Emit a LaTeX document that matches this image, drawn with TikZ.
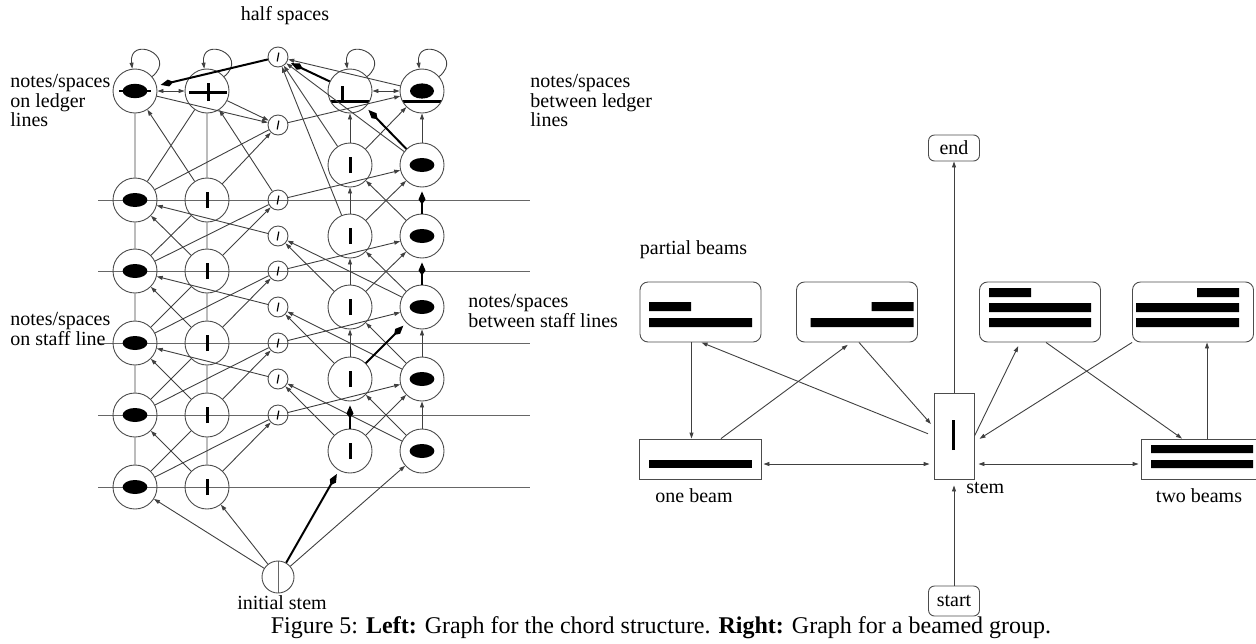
\documentclass[tikz,border=0pt]{standalone}
\usepackage{fontspec}
\setmainfont{Liberation Serif}
\usetikzlibrary
  {
    arrows.meta,              % arrow heads
    positioning,              % place nodes relative to other nodes
  }

\begin{document}
\begin{tikzpicture}
    [
      x=0.5pt,
      y=0.5pt,
      font=\fontsize{10}{9.75}\selectfont,
      >={Triangle[length=3pt,width=2pt]},
      link/.style=
        {
          ->,
          draw=black!75,
          line width=0.45pt,
        },
      mainlink/.style=
        {
          -{Kite[length=6.5pt,width=3.5pt,inset=2.5pt]},
          draw=black,
          line width=1pt,
          shorten >=2pt,
        },
      staff/.style={draw=black!60, line width=0.5pt},
      chordnode/.style=
        {
          circle,
          minimum size=22pt,
          inner sep=0pt,
          draw=black!70,
          line width=0.45pt,
        },
      halfnode/.style=
        {
          circle,
          minimum size=10pt,
          inner sep=0pt,
          draw=black!70,
          line width=0.45pt,
          path picture={\draw [black, line width=0.6pt, shift={(path picture bounding box.center)}]
                          (-0.4pt,-2.2pt) -- (0.4pt,2.2pt);},
        },
      headmark/.style=
        {path picture={\fill [black, shift={(path picture bounding box.center)}]
                         (0,0) ellipse [x radius=6.2pt, y radius=3.5pt];}},
      stemmark/.style=
        {path picture={\draw [black, line width=1.5pt, shift={(path picture bounding box.center)}]
                         (0,-4pt) -- (0,4pt);}},
      ledgermark/.style=
        {path picture={\fill [black, shift={(path picture bounding box.center)}]
                         (0,0) ellipse [x radius=6.2pt, y radius=3.6pt];
                       \draw [black, line width=1.2pt, shift={(path picture bounding box.center)}]
                         (-8pt,0) -- (8pt,0);}},
      plusmark/.style=
        {path picture={\draw [black, line width=1.5pt, shift={(path picture bounding box.center)}]
                         (-9pt,-0.5pt) -- (10pt,-0.5pt) (0.5pt,-5pt) -- (0.5pt,4pt);}},
      floormark/.style=
        {path picture={\draw [black, line width=1.5pt, shift={(path picture bounding box.center)}]
                         (-11pt,-5pt) -- (11pt,-5pt) (-4pt,-5pt) -- (-4pt,2.5pt);}},
      domemark/.style=
        {path picture={\fill [black, shift={(path picture bounding box.center)}]
                         (0,0) ellipse [x radius=6pt, y radius=3.8pt];
                       \draw [black, line width=1.5pt, shift={(path picture bounding box.center)}]
                         (-11pt,-5.2pt) -- (11pt,-5.2pt);}},
      startmark/.style=
        {path picture={\draw [black!60, line width=0.5pt, shift={(path picture bounding box.center)}]
                         (0,-9pt) -- (0,9pt);}},
      partbox/.style=
        {
          rectangle,
          rounded corners=4pt,
          minimum width=60.5pt,
          minimum height=30pt,
          draw=black!70,
          line width=0.45pt,
        },
      beambox/.style=
        {
          rectangle,
          minimum width=61pt,
          minimum height=20pt,
          draw=black!70,
          line width=0.45pt,
        },
      termbox/.style=
        {
          rectangle,
          rounded corners=3pt,
          minimum width=25.5pt,
          inner sep=0pt,
          draw=black!70,
          line width=0.45pt,
        },
      partleft/.style=
        {path picture={\fill [black, sharp corners, shift={(path picture bounding box.center)}]
                         (-25.75pt,0.5pt) rectangle (-4.75pt,5pt)
                         (-25.75pt,-3pt) rectangle (25.75pt,-7.5pt);}},
      partright/.style=
        {path picture={\fill [black, sharp corners, shift={(path picture bounding box.center)}]
                         (7.25pt,0.5pt) rectangle (28.25pt,5pt)
                         (-23.25pt,-3pt) rectangle (28.25pt,-7.5pt);}},
      partleftdouble/.style=
        {path picture={\fill [black, sharp corners, shift={(path picture bounding box.center)}]
                         (-25.5pt,7.5pt) rectangle (-4.5pt,12pt)
                         (-25.5pt,0pt) rectangle (25.5pt,4.5pt)
                         (-25.5pt,-3pt) rectangle (25.5pt,-7.5pt);}},
      partrightdouble/.style=
        {path picture={\fill [black, sharp corners, shift={(path picture bounding box.center)}]
                         (2pt,7.5pt) rectangle (23pt,12pt)
                         (-28.5pt,0pt) rectangle (23pt,4.5pt)
                         (-28.5pt,-3pt) rectangle (23pt,-7.5pt);}},
      onebeam/.style=
        {path picture={\fill [black, shift={(path picture bounding box.center)}]
                         (-25.75pt,-0.5pt) rectangle (25.75pt,-4.5pt);}},
      twobeams/.style=
        {path picture={\fill [black, shift={(path picture bounding box.center)}]
                         (-25.5pt,3pt) rectangle (25.5pt,7pt)
                         (-25.5pt,-0.5pt) rectangle (25.5pt,-4.5pt);}},
      stemline/.style=
        {path picture={\draw [black, line width=1.5pt, shift={(path picture bounding box.center)}]
                         (-0.5pt,-7pt) -- (-0.5pt,8.25pt);}},
    ]
    \useasboundingbox (0,0) rectangle (1256,-643);

    % staff
    \foreach \y in {200,271,343,415,487}
      \draw [staff] (98,-\y) -- (530,-\y);

    % chord graph
    \node (A0) [chordnode, ledgermark] at (135,-91) {};
    \node (B0) [chordnode, plusmark] at (207,-91) {};
    \node (D0) [chordnode, floormark] at (350,-91) {};
    \node (E0) [chordnode, domemark] at (422,-91) {};
    \foreach \i/\y in {1/200,2/271,3/343,4/415,5/487}
      {
        \node (A\i) [chordnode, headmark] at (135,-\y) {};
        \node (B\i) [chordnode, stemmark] at (207,-\y) {};
      }
    \foreach \i/\y in {1/165,2/236,3/307,4/379,5/451}
      {
        \node (D\i) [chordnode, stemmark] at (350,-\y) {};
        \node (E\i) [chordnode, headmark] at (422,-\y) {};
      }
    \foreach \i/\y in {0/57,1/125,2/200,3/236,4/271,5/307,6/343,7/379,8/415}
      \node (H\i) [halfnode] at (278,-\y) {};
    \node (S) [circle, minimum size=16pt, inner sep=0pt, draw=black!70,
               line width=0.45pt, startmark] at (278,-577) {};

    \node (halflab) [anchor=base] at (285,-20) {half spaces};
    \node (ledgerlab) [anchor=north west, align=left, inner sep=0pt] at (10,-74)
      {notes/spaces\\on ledger\\lines};
    \node (betweenlab) [anchor=north west, align=left, inner sep=0pt] at (530,-74)
      {notes/spaces\\between ledger\\lines};
    \node (stafflab) [anchor=north west, align=left, inner sep=0pt] at (10,-312)
      {notes/spaces\\on staff line};
    \node (spacelab) [anchor=north west, align=left, inner sep=0pt] at (468,-294)
      {notes/spaces\\between staff lines};
    \node (initlab) [below=0pt of S, xshift=2pt, inner sep=1pt] {initial stem};

    \foreach \n in {A0,B0,D0,E0}
      \draw [link] (\n.40) .. controls +(40:34) and +(97:34) .. (\n.97);
    \draw [link, <->] (A0) -- (B0);
    \draw [link, <->] (D0) -- (E0);
    \foreach \i/\j in {1/0,2/1,3/2,4/3,5/4}
      \draw [link] (A\i) -- (A\j)
                   (B\i) -- (B\j)
                   (A\i) -- (B\j)
                   (B\i) -- (A\j);
    \foreach \a/\b in {D1/D0,D2/D1,D3/D2,D4/D3,E1/E0,E4/E3,E5/E4,
                       D1/E0,D2/E1,D3/E2,D5/E4,E2/D1,E3/D2,E4/D3,E5/D4}
      \draw [link] (\a) -- (\b);
    \foreach \i/\h in {1/1,2/2,3/4,4/6,5/8}
      \draw [link] (A\i) -- (H\h)
                   (B\i) -- (H\h);
    \foreach \h/\e in {1/0,2/1,4/2,6/3,8/4}
      \draw [link] (H\h) -- (E\e);
    \foreach \h/\a in {3/1,5/2,7/3}
      \draw [link] (H\h) -- (A\a);
    \foreach \n/\h in {D1/0,E1/0,D2/0,D3/3,E3/3,D4/5,E4/5,D5/7,E5/7}
      \draw [link] (\n) -- (H\h);
    \draw [link] (A0) -- (H1);
    \draw [link] (B0) -- (H1);
    \draw [link] (E0) -- (H0);
    \draw [link] (H2) -- (B0);
    \draw [link] (S) -- (A5);
    \draw [link] (S) -- (B5);
    \draw [link] (S) -- (E5);
    \foreach \a/\b in {S/D5,D5/D4,D4/E3,E3/E2,E2/E1,E1/D0,D0/H0,H0/A0}
      \draw [mainlink] (\a) -- (\b);

    % beamed group graph
    \node (endnode) [termbox, minimum height=13pt] at (954,-148) {end};
    \node (startnode) [termbox, minimum height=15pt] at (954,-601) {start};
    \node (pb1) [partbox, partleft] at (700.5,-312) {};
    \node (pb2) [partbox, partright] at (857,-312) {};
    \node (pb3) [partbox, partleftdouble] at (1040,-312) {};
    \node (pb4) [partbox, partrightdouble] at (1193,-312) {};
    \node (beam1) [beambox, onebeam] at (700,-459) {};
    \node (stem) [rectangle, minimum width=20pt, minimum height=43pt, draw=black!70,
                  line width=0.45pt, stemline] at (954,-436) {};
    \node (beam2) [beambox, twobeams] at (1202,-459) {};

    \node (partlab) [anchor=south west, inner sep=0pt] at ([yshift=11pt]pb1.north west) {partial beams};
    \node (onelab) [below=1pt of beam1, xshift=-3pt] {one beam};
    \node (twolab) [below=1pt of beam2, xshift=-1.5pt] {two beams};
    \node (stemlab) [anchor=north west, inner sep=1pt] at ([xshift=5pt]stem.south) {stem};

    \draw [link] (stem) -- (endnode);
    \draw [link, shorten >=3pt] (startnode) -- (stem);
    \draw [link, <->, shorten >=2pt, shorten <=1pt] ([yshift=-2.5pt]beam1.east) -- ([yshift=-2.5pt]beam1.east -| stem.west);
    \draw [link, <->, shorten >=1pt, shorten <=2pt] ([yshift=-2.5pt]beam2.west -| stem.east) -- ([yshift=-2.5pt]beam2.west);
    \draw [link] ([xshift=-4.5pt]pb1.south) -- ([xshift=-4.5pt]pb1.south |- beam1.north);
    \draw [link, shorten >=2pt] ([xshift=10.5pt]beam1.north) -- ([xshift=-3pt]pb2.south);
    \draw [link, shorten <=3pt] (stem.west) -- ([xshift=0.5pt]pb1.south);
    \draw [link, shorten >=2pt] ([xshift=1pt]pb2.south) -- ([yshift=4.5pt]stem.west);
    \draw [link, shorten >=2pt] (stem.east) -- ([xshift=-10pt]pb3.south);
    \draw [link] ([xshift=3pt]pb3.south) -- ([xshift=-10pt]beam2.north);
    \draw [link, shorten >=3pt] (pb4.south west) -- ([yshift=-3pt]stem.east);
    \draw [link] ([xshift=2.5pt]beam2.north) -- ([xshift=2.5pt]beam2.north |- pb4.south);

    \node (caption) [anchor=base, font=\fontsize{12}{14}\selectfont] at (661,-633)
      {Figure 5: \textbf{Left:} Graph for the chord structure. \textbf{Right:} Graph for a beamed group.};
  \end{tikzpicture}
\end{document}
